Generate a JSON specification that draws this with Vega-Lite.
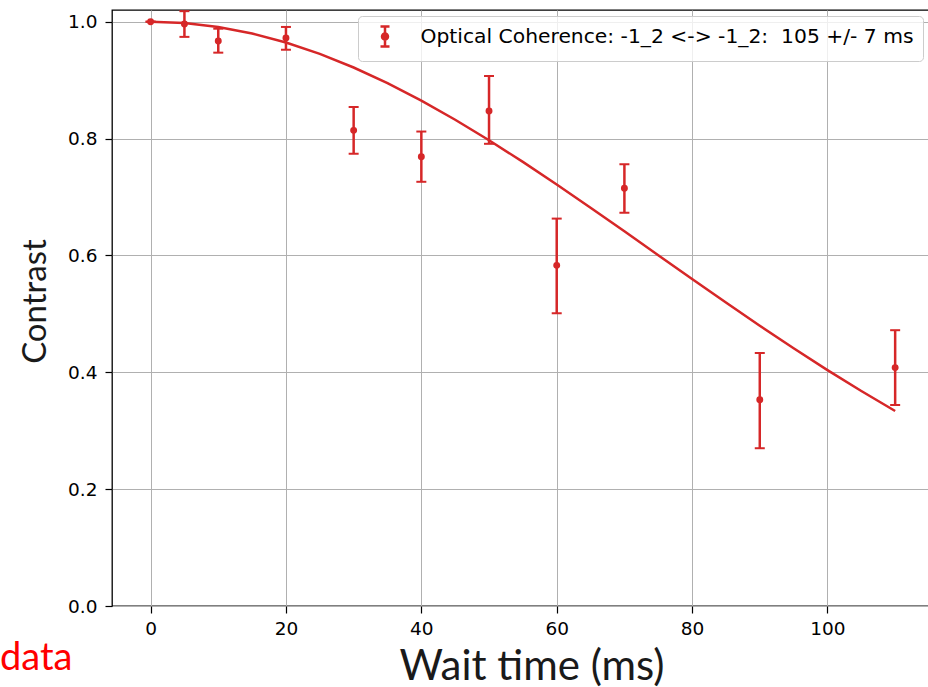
{
  "$schema": "https://vega.github.io/schema/vega-lite/v6.json",
  "width": 817,
  "height": 596,
  "autosize": {"type": "none"},
  "padding": {"left": 112, "top": 10, "right": 0, "bottom": 81},
  "background": "white",
  "title": {
    "text": "data",
    "orient": "bottom",
    "anchor": "start",
    "frame": "group",
    "color": "red",
    "font": "Lato",
    "fontSize": 38,
    "fontWeight": "normal",
    "baseline": "alphabetic",
    "dx": -112,
    "dy": -17,
    "offset": 0
  },
  "datasets": {
    "pts": [
      {"t": 0, "c": 1.0, "lo": 1.0, "hi": 1.0, "series": "Optical Coherence: -1_2 <-> -1_2: \u00a0105 +/- 7 ms"},
      {"t": 5, "c": 0.996, "lo": 0.974, "hi": 1.018, "series": "Optical Coherence: -1_2 <-> -1_2: \u00a0105 +/- 7 ms"},
      {"t": 10, "c": 0.967, "lo": 0.947, "hi": 0.988, "series": "Optical Coherence: -1_2 <-> -1_2: \u00a0105 +/- 7 ms"},
      {"t": 20, "c": 0.972, "lo": 0.952, "hi": 0.991, "series": "Optical Coherence: -1_2 <-> -1_2: \u00a0105 +/- 7 ms"},
      {"t": 30, "c": 0.814, "lo": 0.774, "hi": 0.854, "series": "Optical Coherence: -1_2 <-> -1_2: \u00a0105 +/- 7 ms"},
      {"t": 40, "c": 0.769, "lo": 0.726, "hi": 0.812, "series": "Optical Coherence: -1_2 <-> -1_2: \u00a0105 +/- 7 ms"},
      {"t": 50, "c": 0.847, "lo": 0.791, "hi": 0.907, "series": "Optical Coherence: -1_2 <-> -1_2: \u00a0105 +/- 7 ms"},
      {"t": 60, "c": 0.583, "lo": 0.501, "hi": 0.663, "series": "Optical Coherence: -1_2 <-> -1_2: \u00a0105 +/- 7 ms"},
      {"t": 70, "c": 0.715, "lo": 0.673, "hi": 0.756, "series": "Optical Coherence: -1_2 <-> -1_2: \u00a0105 +/- 7 ms"},
      {"t": 90, "c": 0.353, "lo": 0.27, "hi": 0.433, "series": "Optical Coherence: -1_2 <-> -1_2: \u00a0105 +/- 7 ms"},
      {"t": 110, "c": 0.408, "lo": 0.344, "hi": 0.472, "series": "Optical Coherence: -1_2 <-> -1_2: \u00a0105 +/- 7 ms"}
    ],
    "fit": [
      {"t": 0, "c": 1.0}, {"t": 5, "c": 0.99773}, {"t": 10, "c": 0.99097}, {"t": 15, "c": 0.9798},
      {"t": 20, "c": 0.96437}, {"t": 25, "c": 0.94489}, {"t": 30, "c": 0.92161}, {"t": 35, "c": 0.89484},
      {"t": 40, "c": 0.86491}, {"t": 45, "c": 0.83221}, {"t": 50, "c": 0.79711}, {"t": 55, "c": 0.76004},
      {"t": 60, "c": 0.72142}, {"t": 65, "c": 0.68166}, {"t": 70, "c": 0.64118}, {"t": 75, "c": 0.60039},
      {"t": 80, "c": 0.55961}, {"t": 85, "c": 0.51927}, {"t": 90, "c": 0.47965}, {"t": 95, "c": 0.44103},
      {"t": 100, "c": 0.40372}, {"t": 105, "c": 0.36788}, {"t": 110, "c": 0.33371}
    ]
  },
  "encoding": {
    "x": {
      "field": "t",
      "type": "quantitative",
      "scale": {"domain": [-5.7, 115.0], "nice": false, "zero": false},
      "axis": {
        "values": [0, 20, 40, 60, 80, 100],
        "format": "d",
        "title": "Wait time (ms)",
        "titleFont": "Lato",
        "titleFontSize": 42,
        "titleFontWeight": "normal",
        "titleColor": "#1a1a1a",
        "titleX": 419.5,
        "titleY": 73,
        "titleAlign": "center",
        "titleBaseline": "alphabetic",
        "labelPadding": 6
      }
    }
  },
  "layer": [
    {
      "data": {"name": "fit"},
      "mark": {"type": "line", "color": "#d62728", "strokeWidth": 2.5},
      "encoding": {
        "y": {
          "field": "c",
          "type": "quantitative",
          "scale": {"domain": [0, 1.02], "nice": false, "zero": false},
          "axis": {
            "values": [0, 0.2, 0.4, 0.6, 0.8, 1.0],
            "format": ".1f",
            "title": "Contrast",
            "titleFont": "Lato",
            "titleFontSize": 33,
            "titleFontWeight": "normal",
            "titleColor": "#1a1a1a",
            "titleAngle": -90,
            "titleX": -67,
            "titleY": 291,
            "titleAlign": "center",
            "titleBaseline": "alphabetic",
            "labelPadding": 8
          }
        }
      }
    },
    {
      "data": {"name": "pts"},
      "mark": {"type": "rule", "color": "#d62728", "strokeWidth": 2.5},
      "encoding": {
        "y": {"field": "lo", "type": "quantitative"},
        "y2": {"field": "hi"}
      }
    },
    {
      "data": {"name": "pts"},
      "mark": {"type": "tick", "orient": "horizontal", "color": "#d62728", "size": 10, "thickness": 2, "opacity": 1},
      "encoding": {
        "y": {"field": "lo", "type": "quantitative"}
      }
    },
    {
      "data": {"name": "pts"},
      "mark": {"type": "tick", "orient": "horizontal", "color": "#d62728", "size": 10, "thickness": 2, "opacity": 1},
      "encoding": {
        "y": {"field": "hi", "type": "quantitative"}
      }
    },
    {
      "data": {"name": "pts"},
      "mark": {"type": "point", "filled": true, "size": 48, "opacity": 1, "shape": "circle"},
      "encoding": {
        "y": {"field": "c", "type": "quantitative"},
        "color": {
          "field": "series",
          "type": "nominal",
          "scale": {"range": ["#d62728"]},
          "legend": {
            "title": null,
            "orient": "top-right",
            "offset": 6,
            "padding": 9,
            "fillColor": "rgba(255,255,255,0.8)",
            "strokeColor": "#cccccc",
            "cornerRadius": 4,
            "labelFont": "DejaVu Sans",
            "labelFontSize": 20.3,
            "labelColor": "black",
            "labelLimit": 0,
            "labelOffset": 24,
            "symbolOffset": 6.5,
            "symbolType": "M0,-1V1M-0.45,-1H0.45M-0.45,1H0.45M0.3,0A0.3,0.3 0 1,1 -0.3,0A0.3,0.3 0 1,1 0.3,0Z",
            "symbolSize": 400,
            "symbolStrokeWidth": 2.5,
            "symbolFillColor": "#d62728",
            "symbolStrokeColor": "#d62728",
            "symbolOpacity": 1
          }
        }
      }
    }
  ],
  "config": {
    "view": {"stroke": "black", "strokeWidth": 1.3},
    "axis": {
      "domain": false,
      "grid": true,
      "gridColor": "#b0b0b0",
      "gridWidth": 1,
      "ticks": true,
      "tickColor": "black",
      "tickWidth": 1.2,
      "tickSize": 7,
      "labelFont": "DejaVu Sans",
      "labelFontSize": 18.5,
      "labelColor": "black"
    }
  }
}
